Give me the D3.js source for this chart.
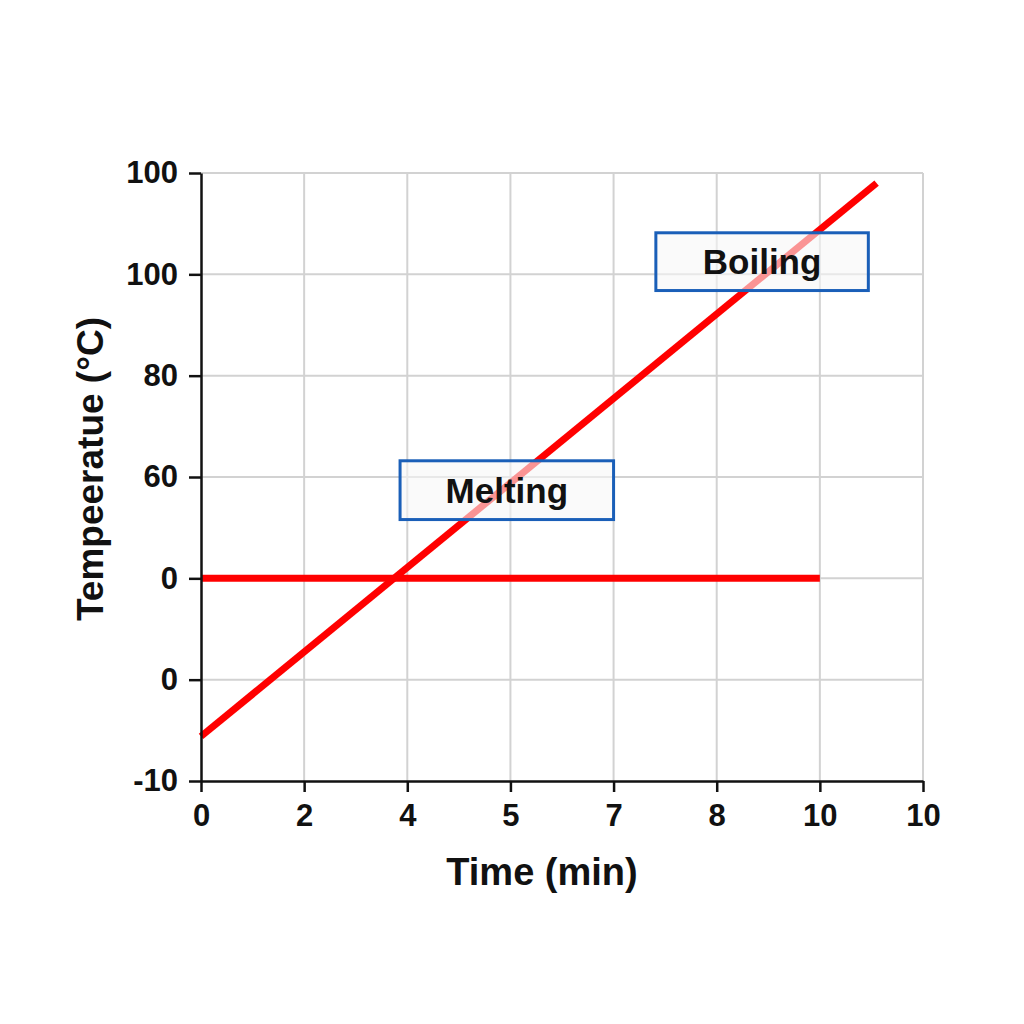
<!DOCTYPE html>
<html>
<head>
<meta charset="utf-8">
<script src="https://cdn.jsdelivr.net/npm/d3@7"></script>
<style>
  body { margin: 0; background: #fff; }
  text { font-family: "Liberation Sans", Arial, sans-serif; font-weight: bold; }
</style>
</head>
<body>
<div id="chart"></div>
<script>
// tick labels, as printed (positions are evenly spaced slots)
const xTickLabels = ['0', '2', '4', '5', '7', '8', '10', '10'];
const yTickLabels = ['-10', '0', '0', '60', '80', '100', '100'];

// lines, in tick-slot units
const heatingLine = [[0.0, 0.44], [6.55, 5.9]];
const flatLine = [[0, 2], [6, 2]];

// annotation boxes: label, x0, x1, y0, y1 (tick-slot units)
const boxLabels = ['Melting', 'Boiling'];
const boxX = [[1.93, 4.0], [4.41, 6.47]];
const boxY = [[2.58, 3.16], [4.84, 5.41]];

const width = 1024, height = 1024;
const margin = { top: 173, right: 101, bottom: 243, left: 201 };

const svg = d3.select('#chart').append('svg')
    .attr('width', width)
    .attr('height', height);

const x = d3.scaleLinear()
    .domain([0, xTickLabels.length - 1])
    .range([margin.left, width - margin.right]);
const y = d3.scaleLinear()
    .domain([0, yTickLabels.length - 1])
    .range([height - margin.bottom, margin.top]);

// grid
const grid = svg.append('g').attr('stroke', '#d2d2d2').attr('stroke-width', 2);
grid.selectAll('.vx').data(d3.range(1, xTickLabels.length)).enter()
    .append('line')
    .attr('x1', d => x(d)).attr('x2', d => x(d))
    .attr('y1', y(0)).attr('y2', y(yTickLabels.length - 1));
grid.selectAll('.hy').data(d3.range(1, yTickLabels.length)).enter()
    .append('line')
    .attr('y1', d => y(d)).attr('y2', d => y(d))
    .attr('x1', x(0)).attr('x2', x(xTickLabels.length - 1));

// lines
const line = d3.line().x(d => x(d[0])).y(d => y(d[1]));
[heatingLine, flatLine].forEach(pts => {
    svg.append('path')
        .attr('d', line(pts))
        .attr('fill', 'none')
        .attr('stroke', '#ff0000')
        .attr('stroke-width', 7);
});

// annotation boxes
boxLabels.forEach((label, i) => {
    const g = svg.append('g');
    g.append('rect')
        .attr('x', x(boxX[i][0]))
        .attr('y', y(boxY[i][1]))
        .attr('width', x(boxX[i][1]) - x(boxX[i][0]))
        .attr('height', y(boxY[i][0]) - y(boxY[i][1]))
        .attr('fill', '#f6f6f6')
        .attr('fill-opacity', 0.6)
        .attr('stroke', '#1a5fb8')
        .attr('stroke-width', 3);
    g.append('text')
        .attr('x', x((boxX[i][0] + boxX[i][1]) / 2))
        .attr('y', y((boxY[i][0] + boxY[i][1]) / 2))
        .attr('text-anchor', 'middle')
        .attr('dy', '0.36em')
        .style('font-size', '35px')
        .style('fill', '#111')
        .text(label);
});

// axes
const xAxis = d3.axisBottom(x)
    .tickValues(d3.range(xTickLabels.length))
    .tickFormat(i => xTickLabels[i])
    .tickSize(11).tickSizeOuter(0).tickPadding(12);
const yAxis = d3.axisLeft(y)
    .tickValues(d3.range(yTickLabels.length))
    .tickFormat(i => yTickLabels[i])
    .tickSize(12).tickSizeOuter(0).tickPadding(11);

const gx = svg.append('g')
    .attr('transform', `translate(0,${y(0)})`)
    .call(xAxis);
const gy = svg.append('g')
    .attr('transform', `translate(${x(0)},0)`)
    .call(yAxis);
[gx, gy].forEach(g => {
    g.selectAll('path, line').attr('stroke', '#111').attr('stroke-width', 2.5);
    g.selectAll('text').style('font-size', '31px').style('fill', '#111')
        .style('font-family', '"Liberation Sans", Arial, sans-serif');
});

// axis titles
svg.append('text')
    .attr('x', 542).attr('y', 885)
    .attr('text-anchor', 'middle')
    .style('font-size', '38px')
    .style('fill', '#111')
    .text('Time (min)');
svg.append('text')
    .attr('transform', 'translate(103,469) rotate(-90)')
    .attr('text-anchor', 'middle')
    .style('font-size', '37px')
    .style('fill', '#111')
    .text('Tempeeratue (°C)');
</script>
</body>
</html>
